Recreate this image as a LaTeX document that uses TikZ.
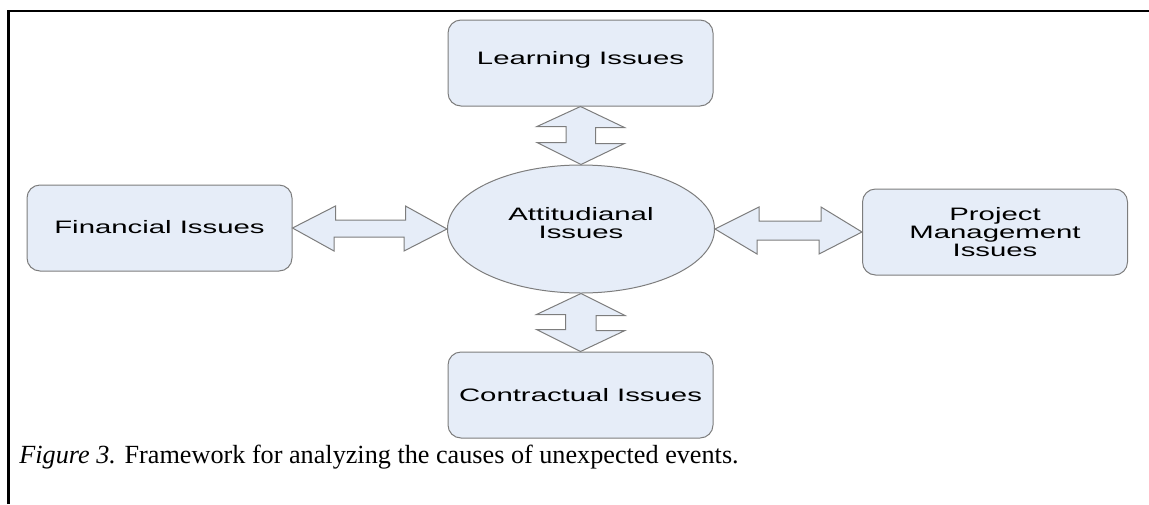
\documentclass[tikz,border=0pt]{standalone}
\usepackage{fontspec}
\setmainfont{Liberation Serif}
\newfontfamily\diagfont{Liberation Sans}
\usetikzlibrary{calc,shapes.geometric}
\definecolor{boxfill}{RGB}{230,237,248}
\definecolor{boxline}{RGB}{125,125,125}

% widened sans labels, one or more centred lines
\newcommand{\widelabel}[1]{\scalebox{1.63}[1]{\begin{tabular}{@{}c@{}}#1\end{tabular}}}

\begin{document}
\begin{tikzpicture}[x=0.5pt,y=-0.5pt,
  issue/.style={draw=boxline, fill=boxfill, line width=0.5pt, rounded corners=6.5pt,
                minimum width=132.5pt, minimum height=43pt, inner sep=0pt},
  core/.style={draw=boxline, fill=boxfill, line width=0.5pt, ellipse,
               minimum width=133.5pt, minimum height=64pt, inner sep=0pt},
  lbl/.style={font=\diagfont\fontsize{9}{9}\selectfont, inner sep=0pt},
  blockarrow/.style={draw=boxline, fill=boxfill, line width=0.5pt, line join=miter},
  frameline/.style={line width=1.2pt, black}]

\useasboundingbox (0,0) rectangle (1149,504);

% open frame: top and left rules
\coordinate (fbl) at (8.5,504);
\coordinate (ftl) at (8.5,11);
\coordinate (ftr) at (1149,11);
\draw[frameline] (fbl) -- (ftl) -- (ftr);

% boxes
\node[issue] (learn) at (580.5,63) {};
\node[lbl] (learnT) at ($(learn.center)+(0,-2)$) {\widelabel{Learning Issues}};

\node[issue] (fin) at (159.5,228) {};
\node[lbl] (finT) at ($(fin.center)+(0,2)$) {\widelabel{Financial Issues}};

\node[issue] (proj) at (995,232) {};
\node[lbl] (projT) at ($(proj.center)+(0,3)$) {\widelabel{Project\\Management\\Issues}};

\node[issue] (contr) at (580.5,395) {};
\node[lbl] (contrT) at ($(contr.center)+(0,3)$) {\widelabel{Contractual Issues}};

\node[core] (att) at (581,229) {};
\node[lbl] (attT) at ($(att.center)+(0,-3)$) {\widelabel{Attitudianal\\Issues}};

% block double arrows
\draw[blockarrow] (learn.south) -- ++(44,21) -- ++(-29,0) -- ++(0,16) -- ++(29,0)
  -- (att.north) -- ++(-44,-22) -- ++(29,0) -- ++(0,-16) -- ++(-29,0) -- cycle;

\draw[blockarrow] (att.south) -- ++(44,22) -- ++(-29,0) -- ++(0,15) -- ++(29,0)
  -- (contr.north) -- ++(-44,-22) -- ++(29,0) -- ++(0,-15) -- ++(-29,0) -- cycle;

\draw[blockarrow] (fin.east) -- ++(43,-22) -- ++(0,14) -- ++(70,0) -- ++(0,-14)
  -- (att.west) -- ++(-43,22) -- ++(0,-14) -- ++(-70,0) -- ++(0,14) -- cycle;

\draw[blockarrow] (att.east) -- ++(44,-22) -- ++(0,14) -- ++(62,0) -- ++(0,-14)
  -- (proj.west) -- ++(-43,22) -- ++(0,-14) -- ++(-62,0) -- ++(0,14) -- cycle;

% caption
\node[anchor=base west, font=\fontsize{13.1}{15}\selectfont, inner sep=0pt] (cap) at (19,463)
  {\textit{Figure 3.} Framework for analyzing the causes of unexpected events.};
\end{tikzpicture}
\end{document}
